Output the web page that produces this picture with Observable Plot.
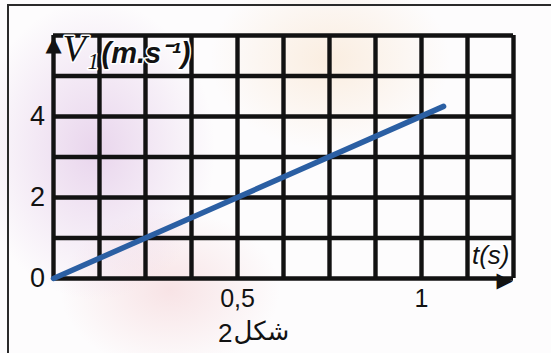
<!DOCTYPE html>
<html><head><meta charset="utf-8">
<script src="https://cdn.jsdelivr.net/npm/d3@7"></script>
<script src="https://cdn.jsdelivr.net/npm/@observablehq/plot@0.6"></script>
<style>
body{margin:0;background:#fff}
#wrap{position:relative;width:551px;height:353px;overflow:hidden;
 background:
  radial-gradient(ellipse 120px 150px at 95px 150px, rgba(200,150,210,0.38), rgba(200,150,210,0) 100%),
  radial-gradient(ellipse 110px 80px at 170px 290px, rgba(235,170,175,0.30), rgba(235,170,175,0) 100%),
  radial-gradient(ellipse 120px 90px at 330px 60px, rgba(245,210,170,0.35), rgba(245,210,170,0) 100%),
  #fdfcfd;}
#wrap svg{position:absolute;left:0;top:0}
#frame{position:absolute;left:7px;top:4px;right:-20px;bottom:-20px;border-top:2px solid #2a2a2a;border-left:2px solid #2a2a2a}
</style></head><body><div id="wrap"><div id="frame"></div></div>
<script>
// data
const times = [0, 1.06];          // t (s)
const speeds = [0, 4.25];         // V1 (m/s)
const xGrid = [0, 0.125, 0.25, 0.375, 0.5, 0.625, 0.75, 0.875, 1, 1.125, 1.25];
const yGrid = [0, 1, 2, 3, 4, 5, 6];
const xTicks = [0.5, 1];
const xTickLabels = ["0,5", "1"];
const yTicks = [0, 2, 4];
const yTickLabels = ["0", "2", "4"];
const yLabelSymbol = "V\u2081";
const yLabelUnit = "(m.s\u207B\u00B9)";
const xLabel = "t(s)";
const captionWord = "شكل";   // caption "شكل2": word ...
const captionNumber = "2";    // ... and its numeral, shown on the left

const line = times.map((t, i) => ({t, v: speeds[i]}));
const ink = "#121212";
const halo = {stroke: "white", strokeWidth: 3, paintOrder: "stroke"};

const chart = Plot.plot({
  width: 551, height: 353,
  marginLeft: 53, marginRight: 38, marginTop: 35, marginBottom: 75,
  style: {background: "transparent", overflow: "visible"},
  x: {domain: [0, 1.25], axis: null},
  y: {domain: [0, 6], axis: null},
  marks: [
    Plot.ruleX(xGrid, {y1: 0, y2: 6, stroke: ink, strokeWidth: 4.4}),
    Plot.ruleY(yGrid, {x1: 0, x2: 1.25, stroke: ink, strokeWidth: 4.4}),
    Plot.text(["\u25B2"], {x: 0, y: 6, dy: 9, fontSize: 21, fill: ink, fontFamily: "DejaVu Sans"}),
    Plot.text(["\u25B6"], {x: 1.25, y: 0, dx: -9, dy: 2, fontSize: 21, fill: ink, fontFamily: "DejaVu Sans"}),
    Plot.line(line, {x: "t", y: "v", stroke: "#2b5fa3", strokeWidth: 5.5, strokeLinecap: "round"}),
    Plot.text(yTicks, {x: 0, y: d => d, text: (d, i) => yTickLabels[i], dx: -16, fontSize: 27, fill: ink, fontFamily: "Liberation Sans"}),
    Plot.text(xTicks, {x: d => d, y: 0, text: (d, i) => xTickLabels[i], dy: 20, fontSize: 25, fill: ink, fontFamily: "Liberation Sans"}),
    Plot.text([yLabelSymbol], {frameAnchor: "top-left", dx: 9, dy: -1, textAnchor: "start", fontSize: 38, fontStyle: "italic", fill: ink, fontFamily: "Liberation Serif", ...halo}),
    Plot.text([yLabelUnit], {frameAnchor: "top-left", dx: 48, dy: 7, textAnchor: "start", fontSize: 29, fontStyle: "italic", fontWeight: "bold", fill: ink, fontFamily: "Liberation Sans", ...halo}),
    Plot.text([xLabel], {frameAnchor: "bottom-right", dx: -4, dy: -15, textAnchor: "end", fontSize: 26, fontStyle: "italic", fill: ink, fontFamily: "Liberation Sans", ...halo}),
    Plot.text([captionNumber], {frameAnchor: "bottom", lineAnchor: "middle", dx: -51, dy: 55, textAnchor: "end", fontSize: 26, fill: ink, fontFamily: "Liberation Sans"}),
    Plot.text([captionWord], {frameAnchor: "bottom", lineAnchor: "middle", dx: -50, dy: 53, textAnchor: "start", fontSize: 26, fill: ink, fontFamily: "DejaVu Sans"})
  ]
});
document.getElementById("wrap").appendChild(chart);
</script>
</body></html>
